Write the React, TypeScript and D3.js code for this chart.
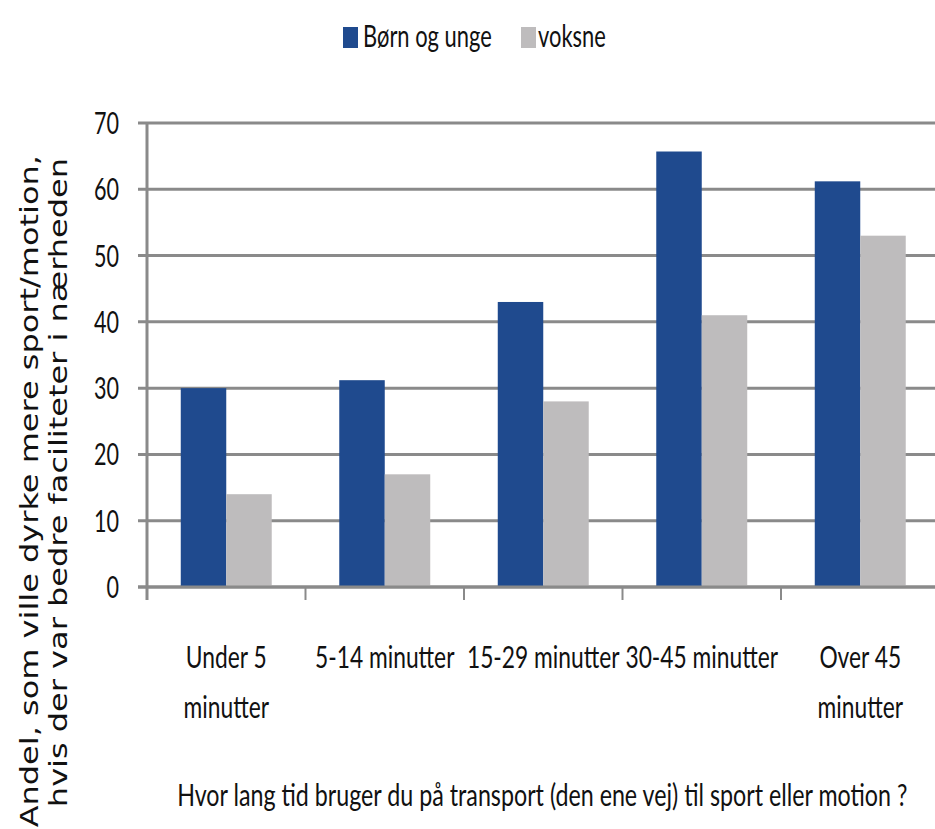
import React from "react";
import * as d3 from "d3";

const categories: string[][] = [
  ["Under 5", "minutter"],
  ["5-14 minutter"],
  ["15-29 minutter"],
  ["30-45 minutter"],
  ["Over 45", "minutter"],
];
const seriesNames = ["Børn og unge", "voksne"];
const bornValues = [30, 31.2, 43, 65.7, 61.2];
const voksneValues = [14, 17, 28, 41, 53];
const yTicks = [0, 10, 20, 30, 40, 50, 60, 70];
const xTitle = "Hvor lang tid bruger du på transport (den ene vej) til sport eller motion ?";
const yTitleLines = [
  "Andel, som ville dyrke mere sport/motion,",
  "hvis der var bedre faciliteter i nærheden",
];

const W = 935;
const H = 829;
const BLUE = "#1f4a8e";
const GRAY = "#bebcbd";
const GRID = "#8a8a8a";
const FONT = "Lato, 'Open Sans', sans-serif";
const SX = 0.76;

export default function App() {
  const left = 147;
  const step = 158.5;
  const x = d3
    .scaleBand<string>()
    .domain(categories.map((c) => c.join(" ")))
    .range([left, left + step * categories.length])
    .paddingInner(0.426)
    .paddingOuter(0.213);
  const inner = d3.scaleBand<string>().domain(seriesNames).range([0, x.bandwidth()]);
  const y = d3.scaleLinear().domain([0, 70]).range([587, 123]);
  const colors = d3.scaleOrdinal<string, string>().domain(seriesNames).range([BLUE, GRAY]);
  const data = categories.map((c, i) => ({
    key: c.join(" "),
    lines: c,
    vals: [bornValues[i], voksneValues[i]],
  }));
  const boundaries = d3.range(categories.length + 1).map((i) => left + i * x.step());

  const legendItems = [
    { name: seriesNames[0], sx: 343, tx: 363 },
    { name: seriesNames[1], sx: 521, tx: 538 },
  ];

  return (
    <svg
      width={W}
      height={H}
      style={{ position: "absolute", left: 0, top: 0, background: "#fff" }}
    >
      <rect x={0} y={0} width={W} height={H} fill="#fff" />
      {/* legend */}
      {legendItems.map((l) => (
        <g key={l.name}>
          <rect x={l.sx} y={27} width={15} height={21} fill={colors(l.name)} />
          <text
            transform={`translate(${l.tx},47) scale(0.73,1)`}
            fontFamily={FONT}
            fontSize={30}
            fill="#111"
          >
            {l.name}
          </text>
        </g>
      ))}
      {/* gridlines */}
      {yTicks.map((t) => (
        <line
          key={t}
          x1={138}
          x2={W}
          y1={y(t)}
          y2={y(t)}
          stroke={GRID}
          strokeWidth={3}
        />
      ))}
      {/* y tick labels */}
      {yTicks.map((t) => (
        <text
          key={"l" + t}
          transform={`translate(119,${y(t) + 11}) scale(0.72,1)`}
          textAnchor="end"
          fontFamily={FONT}
          fontSize={30}
          fill="#111"
        >
          {t}
        </text>
      ))}
      {/* bars */}
      {data.map((d) => (
        <g key={d.key} transform={`translate(${x(d.key)},0)`}>
          {seriesNames.map((s, j) => (
            <rect
              key={s}
              x={inner(s)}
              width={inner.bandwidth()}
              y={y(d.vals[j])}
              height={y(0) - y(d.vals[j])}
              fill={colors(s)}
            />
          ))}
        </g>
      ))}
      {/* axes */}
      <line x1={left} x2={left} y1={y(70)} y2={600} stroke={GRID} strokeWidth={3} />
      <line x1={138} x2={W} y1={y(0)} y2={y(0)} stroke={GRID} strokeWidth={3} />
      {boundaries.slice(1).map((b, i) => (
        <line key={i} x1={b} x2={b} y1={y(0)} y2={600} stroke={GRID} strokeWidth={2} />
      ))}
      {/* category labels */}
      {data.map((d) =>
        d.lines.map((ln, k) => (
          <text
            key={d.key + k}
            transform={`translate(${(x(d.key) as number) + x.bandwidth() / 2},${668 + k * 50}) scale(${SX},1)`}
            textAnchor="middle"
            fontFamily={FONT}
            fontSize={30}
            fill="#111"
          >
            {ln}
          </text>
        ))
      )}
      {/* x title */}
      <text
        transform={`translate(${left + (step * categories.length) / 2 - 1},806) scale(0.75,1)`}
        textAnchor="middle"
        fontFamily={FONT}
        fontSize={31}
        fill="#111"
      >
        {xTitle}
      </text>
      {/* y title */}
      {yTitleLines.map((ln, k) => (
        <text
          key={k}
          transform={`translate(${38 + k * 29},${155 + k * 3}) rotate(-90) scale(1,0.8)`}
          textAnchor="end"
          fontFamily="'DejaVu Sans', Verdana, sans-serif"
          fontSize={32}
          fill="#111"
        >
          {ln}
        </text>
      ))}
    </svg>
  );
}
